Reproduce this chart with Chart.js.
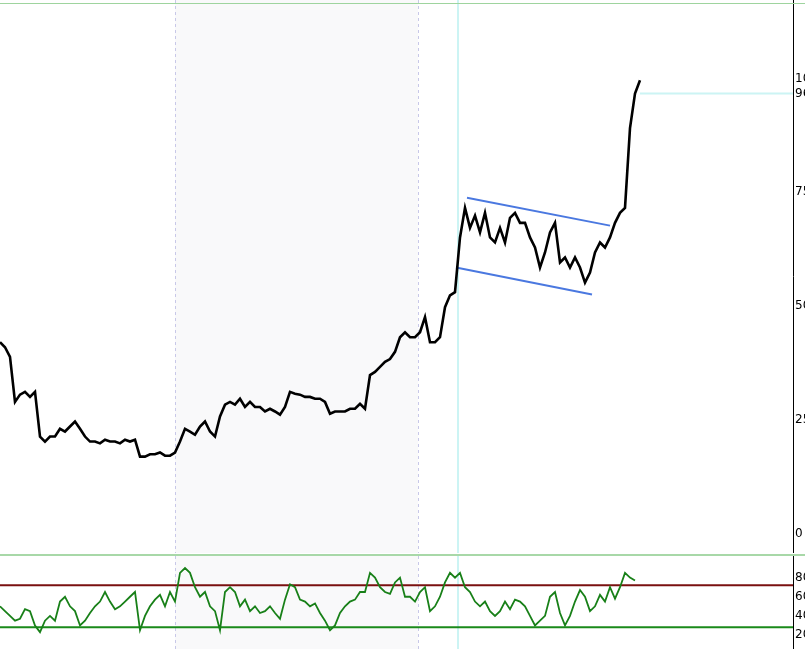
<!DOCTYPE html>
<html><head><meta charset="utf-8">
<script src="https://cdn.jsdelivr.net/npm/chart.js@4"></script>
<style>
  html,body{margin:0;padding:0;background:#fff;overflow:hidden;width:805px;height:649px}
  #wrapMain{position:absolute;left:0;top:0;width:830px;height:553px}
  #wrapRsi{position:absolute;left:0;top:556px;width:830px;height:93px}
  #topLine{position:absolute;left:0;top:3px;width:805px;height:1px;background:#9ed49e}
  #sepLine{position:absolute;left:0;top:554px;width:805px;height:2px;background:#a8d8a8}
</style></head>
<body>
<div id="wrapMain"><canvas id="main"></canvas></div>
<div id="sepLine"></div>
<div id="topLine"></div>
<div id="wrapRsi"><canvas id="rsi"></canvas></div>
<script>
// price, one sample per bar step
const price = [42.1,41.0,38.9,29.0,30.6,31.2,30.1,31.2,21.4,20.3,21.4,21.4,23.1,22.5,23.6,24.7,23.1,21.4,20.3,20.3,
  19.9,20.7,20.3,20.3,19.9,20.7,20.3,20.7,17.0,17.0,17.5,17.5,17.9,17.2,17.2,17.9,20.3,23.1,22.5,21.8,
  23.6,24.7,22.5,21.4,25.8,28.4,29.0,28.4,29.7,27.9,29.0,27.9,27.9,26.9,27.5,26.9,26.2,27.9,31.2,30.8,
  30.6,30.1,30.1,29.7,29.7,29.0,26.4,26.9,26.9,26.9,27.5,27.5,28.6,27.5,34.9,35.6,36.7,37.8,38.4,40.0,
  43.2,44.3,43.2,43.2,44.3,47.6,42.1,42.1,43.2,49.8,52.4,53.1,65.1,71.6,67.2,69.9,66.2,70.5,65.1,64.0,
  67.2,64.0,69.4,70.5,68.3,68.3,65.1,62.9,58.5,61.8,66.2,68.3,59.6,60.7,58.5,60.7,58.5,55.2,57.4,61.8,
  64.0,62.9,65.1,68.3,70.5,71.6,89.1,96.7,99.6];
const rsi = [50,45,40,35,37,47,45,30,23,35,40,35,55,60,50,45,30,35,43,50,
  55,65,55,47,50,55,60,65,25,40,50,57,62,50,65,55,85,90,85,70,
  60,65,50,45,25,65,70,65,50,57,45,50,43,45,50,43,37,57,73,70,
  57,55,50,53,43,35,25,30,43,50,55,57,65,65,85,80,70,65,63,75,
  80,60,60,55,65,70,45,50,60,75,85,80,85,70,65,55,50,55,45,40,
  45,55,47,57,55,50,40,30,35,40,60,65,43,30,40,55,67,60,45,50,
  62,55,70,58,70,85,80,77];
const channelUpper = [{x: 93.4, y: 73.8}, {x: 122, y: 67.7}];
const channelLower = [{x: 91.2, y: 58.5}, {x: 118.4, y: 52.6}];
const priceTicks = [0, 25, 50, 75, 100];
const lastPrice = 96.7;
const rsiTicks = [20, 40, 60, 80];
const rsiLevels = [72, 28];

const xMax = 158.6;
const pts = arr => arr.map((v, i) => ({x: i, y: v}));

const bgPlugin = {
  id: 'bg',
  beforeDatasetsDraw(chart) {
    const {ctx, chartArea: a, scales: {x}} = chart;
    ctx.save();
    const s = x.getPixelForValue(35), e = x.getPixelForValue(83.6);
    ctx.fillStyle = '#f9f9fa';
    ctx.fillRect(s, 0, e - s, chart.height);
    ctx.strokeStyle = '#c8c8e8';
    ctx.setLineDash([3, 3]);
    [s, e].forEach(px => { ctx.beginPath(); ctx.moveTo(px + 0.5, 0); ctx.lineTo(px + 0.5, chart.height); ctx.stroke(); });
    ctx.setLineDash([]);
    ctx.strokeStyle = '#ccf4f4';
    ctx.lineWidth = 2;
    const c = x.getPixelForValue(91.6);
    ctx.beginPath(); ctx.moveTo(c, 0); ctx.lineTo(c, chart.height); ctx.stroke();
    ctx.lineWidth = 1;
    ctx.strokeStyle = '#000';
    ctx.beginPath(); ctx.moveTo(a.right + 0.5, 0); ctx.lineTo(a.right + 0.5, chart.height); ctx.stroke();
    const opts = chart.options.plugins.bg;
    if (opts.levels) {
      const y = chart.scales.y;
      opts.levels.forEach((lv, i) => {
        ctx.strokeStyle = i === 0 ? '#7a1010' : '#1a8a1a';
        ctx.lineWidth = 2;
        const py = y.getPixelForValue(lv);
        ctx.beginPath(); ctx.moveTo(0, py); ctx.lineTo(a.right, py); ctx.stroke();
      });
    }
    if (opts.last) {
      const y = chart.scales.y;
      const py = y.getPixelForValue(opts.last);
      ctx.strokeStyle = '#ccf4f4';
      ctx.lineWidth = 2;
      ctx.beginPath(); ctx.moveTo(x.getPixelForValue(128), py); ctx.lineTo(a.right, py); ctx.stroke();
    }
    ctx.restore();
  }
};

function yAxis(min, max, ticks, extra) {
  return {
    position: 'right', min, max,
    afterFit(s) { s.width = 37; },
    afterBuildTicks(s) { s.ticks = ticks.concat(extra || []).map(v => ({value: v})); },
    grid: {display: false, drawTicks: false}, border: {display: false},
    ticks: {color: '#000', font: {family: 'DejaVu Sans', size: 12}, padding: 2,
      callback: v => String(v)}
  };
}
const xAxis = {type: 'linear', min: 0, max: xMax, display: false};

new Chart(document.getElementById('main'), {
  type: 'line',
  data: {datasets: [
    {data: pts(price), borderColor: '#000', borderWidth: 2.6, pointRadius: 0, tension: 0},
    {data: channelUpper, borderColor: '#4a78e0', borderWidth: 2, pointRadius: 0},
    {data: channelLower, borderColor: '#4a78e0', borderWidth: 2, pointRadius: 0}
  ]},
  options: {
    responsive: true, maintainAspectRatio: false, animation: false,
    layout: {padding: {top: 5, bottom: 2, left: 0, right: 0}},
    plugins: {legend: {display: false}, tooltip: {enabled: false}, bg: {last: lastPrice}},
    scales: {x: xAxis, y: yAxis(-2.14, 115.2, priceTicks, [lastPrice])}
  },
  plugins: [bgPlugin]
});

new Chart(document.getElementById('rsi'), {
  type: 'line',
  data: {datasets: [{data: pts(rsi), borderColor: '#188018', borderWidth: 1.8, pointRadius: 0, tension: 0}]},
  options: {
    responsive: true, maintainAspectRatio: false, animation: false,
    layout: {padding: 0},
    plugins: {legend: {display: false}, tooltip: {enabled: false}, bg: {levels: rsiLevels}},
    scales: {x: xAxis, y: yAxis(15, 93, rsiTicks)}
  },
  plugins: [bgPlugin]
});
</script>
</body></html>
